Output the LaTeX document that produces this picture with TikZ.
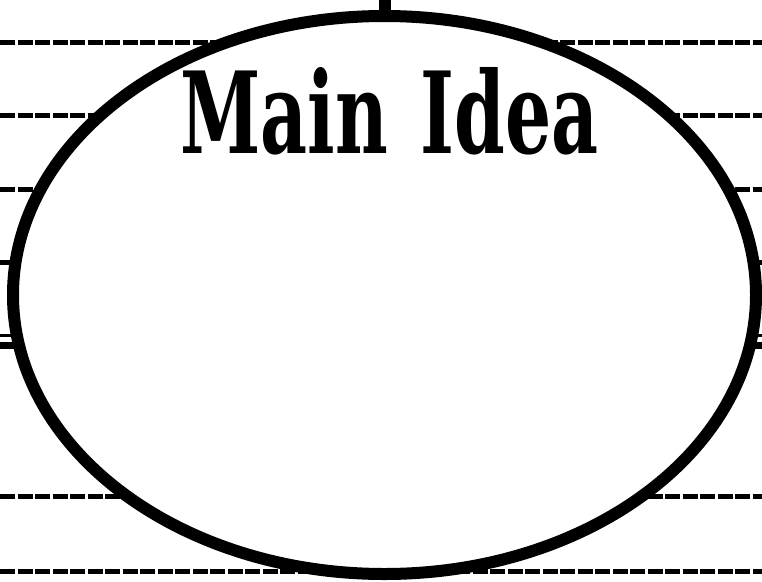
\documentclass[tikz,border=0pt]{standalone}
\usepackage{fontspec}
\usepackage{graphicx}
\usepackage{tikz}
\usetikzlibrary{shapes.geometric,calc}
\newfontfamily\titlefont{DejaVu Serif}

\begin{document}
\begin{tikzpicture}[
  x=1pt, y=-1pt,
  writeline/.style={
    line width=5pt,
    dash pattern=on 15pt off 2.5pt,
    black
  },
  bigoval/.style={
    ellipse,
    draw=black,
    fill=white,
    line width=12pt,
    inner sep=0pt,
    minimum width=743pt,
    minimum height=558pt
  }
]

  % page
  \fill[white] (0,0) rectangle (762,581);
  \useasboundingbox (0,0) rectangle (762,581);

  % writing lines behind the oval
  \foreach \ly in {42,115,189,262,496,571}
    \draw[writeline] (0,\ly) -- (762,\ly);
  \draw[line width=3pt] (0,335) -- (762,335);
  \draw[line width=7pt] (0,345) -- (762,345);

  % the oval
  \node[bigoval] (oval) at (384.5,295) {};

  % stub on top
  \coordinate (stub) at (oval.north |- 0,0);
  \draw[line width=12pt] (oval.north) -- (stub);

  % title
  \node[inner sep=0pt, anchor=north west] (title) at (180,67)
    {\resizebox{418pt}{86pt}{\titlefont\bfseries Main\hspace{0.1em} Idea}};

\end{tikzpicture}
\end{document}
